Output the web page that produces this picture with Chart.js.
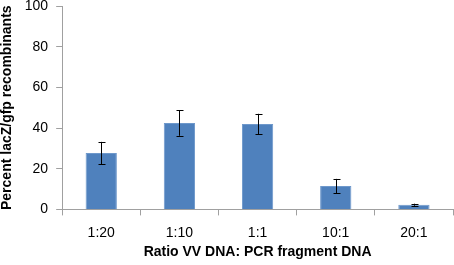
<!DOCTYPE html>
<html><head><meta charset="utf-8">
<script src="https://cdn.jsdelivr.net/npm/chart.js@4"></script>
<style>html,body{margin:0;padding:0;background:#fff}#wrap{width:454px;height:265px}</style>
</head><body><div id="wrap"><canvas id="c"></canvas></div>
<script>
const categories = ["1:20", "1:10", "1:1", "10:1", "20:1"];
const values = [27.7, 42.5, 42.0, 11.5, 2.3];
const errors = [5.5, 6.3, 5.0, 3.5, 0.5];
const yTicks = [0, 20, 40, 60, 80, 100];

const errorBarPlugin = {
  id: 'errorBars',
  afterDatasetsDraw(chart) {
    const ctx = chart.ctx;
    const meta = chart.getDatasetMeta(0);
    const y = chart.scales.y;
    ctx.save();
    ctx.strokeStyle = '#000';
    ctx.lineWidth = 1;
    meta.data.forEach((bar, i) => {
      const x = Math.round(bar.x) + 0.5;
      const top = y.getPixelForValue(values[i] + errors[i]);
      const bot = y.getPixelForValue(values[i] - errors[i]);
      ctx.beginPath();
      ctx.moveTo(x, top); ctx.lineTo(x, bot);
      ctx.moveTo(x - 3, Math.round(top) + 0.5); ctx.lineTo(x + 4, Math.round(top) + 0.5);
      ctx.moveTo(x - 3, Math.round(bot) + 0.5); ctx.lineTo(x + 4, Math.round(bot) + 0.5);
      ctx.stroke();
    });
    ctx.restore();
  }
};

const fam = "'Liberation Sans', Arial, sans-serif";
const font = { family: fam, size: 14 };
new Chart(document.getElementById('c'), {
  type: 'bar',
  data: { labels: categories, datasets: [{ data: values, backgroundColor: '#4F81BD', borderColor: '#6E98CB', borderWidth: 1, categoryPercentage: 1, barPercentage: 0.4 }] },
  options: {
    responsive: true, maintainAspectRatio: false, animation: false,
    layout: { padding: { top: 6, right: 1, left: -1, bottom: 4 } },
    plugins: { legend: { display: false }, tooltip: { enabled: false } },
    scales: {
      x: {
        grid: { display: true, drawOnChartArea: false, drawTicks: true, tickLength: 6, color: '#A0A0A0', offset: true },
        border: { color: '#A0A0A0', width: 1 },
        ticks: { color: '#000', font: font, padding: 9 },
        title: { display: true, text: 'Ratio VV DNA: PCR fragment DNA', color: '#000', font: { family: fam, size: 14, weight: 'bold' }, padding: { top: -6, bottom: 0 } }
      },
      y: {
        min: 0, max: 100,
        afterBuildTicks(axis) { axis.ticks = yTicks.map(v => ({ value: v })); },
        afterFit(axis) { axis.paddingTop = 0; axis.paddingBottom = 0; },
        grid: { display: true, drawOnChartArea: false, drawTicks: true, tickLength: 6, color: '#A0A0A0' },
        border: { color: '#A0A0A0', width: 1 },
        ticks: { color: '#000', font: font, padding: 8 },
        title: { display: true, text: 'Percent lacZ/gfp recombinants', color: '#000', font: { family: fam, size: 14, weight: 'bold' }, padding: { top: 0, bottom: 1 } }
      }
    }
  },
  plugins: [errorBarPlugin]
});
</script></body></html>
